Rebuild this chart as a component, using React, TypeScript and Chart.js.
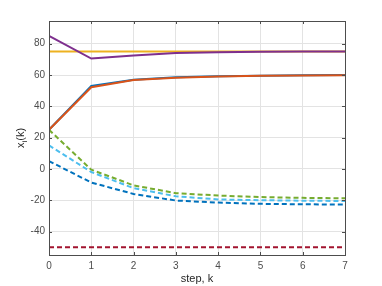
import React, { useEffect, useRef } from "react";
import { Chart, registerables } from "chart.js";

Chart.register(...registerables);

const steps = [0, 1, 2, 3, 4, 5, 6, 7];
const xTicks = [0, 1, 2, 3, 4, 5, 6, 7];
const yTicks = [-40, -20, 0, 20, 40, 60, 80];

const seriesBlue = [25, 53, 57, 58.5, 59.2, 59.6, 59.8, 60];
const seriesOrange = [25, 52.2, 56.8, 58.3, 59, 59.5, 59.7, 59.9];
const seriesYellow = [75, 75, 75, 75, 75, 75, 75, 75];
const seriesPurple = [85, 70.5, 72.5, 74, 74.5, 74.8, 75, 75];
const seriesGreen = [25, -0.5, -10.5, -15.5, -17, -18, -18.5, -18.8];
const seriesCyan = [15, -2, -12.3, -17.5, -19.5, -20, -20.3, -20.5];
const seriesRed = [-50, -50, -50, -50, -50, -50, -50, -50];
const seriesBlueDash = [5, -8.7, -16, -20.2, -21.5, -22.3, -22.6, -22.8];

const AXIS_COLOR = "#4d4d4d";
const GRID_COLOR = "#e3e3e3";
const FONT = "'Liberation Sans', Arial, sans-serif";

const frame = {
  id: "frame",
  afterDraw(chart: any) {
    const { ctx, chartArea: a, scales } = chart;
    ctx.save();
    ctx.strokeStyle = AXIS_COLOR;
    ctx.lineWidth = 1;
    ctx.strokeRect(a.left + 0.5, a.top + 0.5, a.right - a.left, a.bottom - a.top);
    const tl = 3;
    ctx.beginPath();
    for (const v of xTicks) {
      const x = Math.round(scales.x.getPixelForValue(v)) + 0.5;
      ctx.moveTo(x, a.bottom);
      ctx.lineTo(x, a.bottom - tl);
      ctx.moveTo(x, a.top);
      ctx.lineTo(x, a.top + tl);
    }
    for (const v of yTicks) {
      const y = Math.round(scales.y.getPixelForValue(v)) + 0.5;
      ctx.moveTo(a.left, y);
      ctx.lineTo(a.left + tl, y);
      ctx.moveTo(a.right, y);
      ctx.lineTo(a.right - tl, y);
    }
    ctx.stroke();
    // y label with subscript
    const cy = (a.top + a.bottom) / 2;
    ctx.translate(24, cy);
    ctx.rotate(-Math.PI / 2);
    ctx.fillStyle = "#262626";
    ctx.textBaseline = "alphabetic";
    const main = "11px " + FONT;
    const sub = "8px " + FONT;
    ctx.font = main;
    const w1 = ctx.measureText("x").width;
    const w3 = ctx.measureText("(k)").width;
    ctx.font = sub;
    const w2 = ctx.measureText("i").width;
    const total = w1 + w2 + w3;
    let x = -total / 2;
    ctx.font = main;
    ctx.fillText("x", x, 0);
    x += w1;
    ctx.font = sub;
    ctx.fillText("i", x, 3);
    x += w2;
    ctx.font = main;
    ctx.fillText("(k)", x, 0);
    ctx.restore();
  },
};

function ds(label: string, data: number[], color: string, dashed: boolean) {
  return {
    label,
    data: steps.map((s, i) => ({ x: s, y: data[i] })),
    borderColor: color,
    backgroundColor: color,
    borderWidth: 2,
    borderDash: dashed ? [5, 3] : [],
    pointRadius: 0,
    fill: false,
    tension: 0,
  };
}

export default function App() {
  const ref = useRef<HTMLCanvasElement>(null);
  useEffect(() => {
    const chart = new Chart(ref.current!, {
      type: "line",
      data: {
        datasets: [
          ds("x8", seriesBlueDash, "#0072BD", true),
          ds("x7", seriesRed, "#A2142F", true),
          ds("x6", seriesCyan, "#4DBEEE", true),
          ds("x5", seriesGreen, "#77AC30", true),
          ds("x4", seriesPurple, "#7E2F8E", false),
          ds("x3", seriesYellow, "#EDB120", false),
          ds("x2", seriesOrange, "#D95319", false),
          ds("x1", seriesBlue, "#0072BD", false),
        ],
      },
      options: {
        animation: false,
        responsive: false,
        maintainAspectRatio: false,
        layout: { padding: { left: 0, top: 21, right: 37, bottom: 0 } },
        plugins: { legend: { display: false }, tooltip: { enabled: false } },
        scales: {
          x: {
            type: "linear",
            min: 0,
            max: 7,
            afterFit: (s: any) => {
              s.height = 31;
            },
            afterBuildTicks: (s: any) => {
              s.ticks = xTicks.map((v) => ({ value: v }));
            },
            grid: { color: GRID_COLOR, drawTicks: false },
            border: { display: false },
            ticks: {
              color: "#4d4d4d",
              font: { family: FONT, size: 10 },
              padding: 5,
              maxRotation: 0,
            },
            title: {
              display: true,
              text: "step, k",
              color: "#262626",
              font: { family: FONT, size: 11 },
              padding: { top: 0, bottom: 0 },
            },
          },
          y: {
            type: "linear",
            min: -55,
            max: 94.5,
            afterFit: (s: any) => {
              s.width = 49;
            },
            afterBuildTicks: (s: any) => {
              s.ticks = yTicks.map((v) => ({ value: v }));
            },
            grid: { color: GRID_COLOR, drawTicks: false },
            border: { display: false },
            ticks: {
              color: "#4d4d4d",
              font: { family: FONT, size: 10 },
              padding: 4,
            },
          },
        },
      },
      plugins: [frame],
    } as any);
    return () => chart.destroy();
  }, []);
  return (
    <div style={{ position: "fixed", left: 0, top: 0, width: 382, height: 286, background: "#fff" }}>
      <canvas ref={ref} width={382} height={286} style={{ width: 382, height: 286 }} />
    </div>
  );
}
